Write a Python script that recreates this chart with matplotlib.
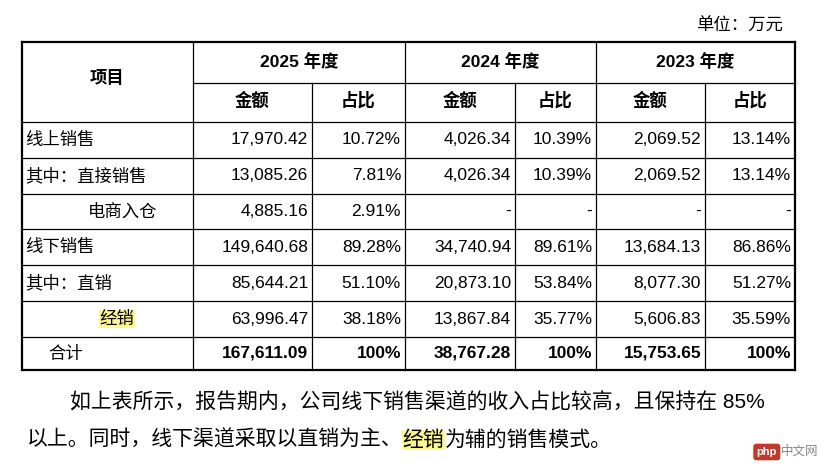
import matplotlib
matplotlib.use("Agg")
import matplotlib.pyplot as plt

FAM = ['Liberation Sans', 'Noto Sans CJK SC']
years = ["2025 年度", "2024 年度", "2023 年度"]
sub = ["金额", "占比"]
row_labels = ["线上销售", "其中：直接销售", "电商入仓", "线下销售", "其中：直销", "经销", "合计"]
amt_2025 = ["17,970.42", "13,085.26", "4,885.16", "149,640.68", "85,644.21", "63,996.47", "167,611.09"]
pct_2025 = ["10.72%", "7.81%", "2.91%", "89.28%", "51.10%", "38.18%", "100%"]
amt_2024 = ["4,026.34", "4,026.34", "-", "34,740.94", "20,873.10", "13,867.84", "38,767.28"]
pct_2024 = ["10.39%", "10.39%", "-", "89.61%", "53.84%", "35.77%", "100%"]
amt_2023 = ["2,069.52", "2,069.52", "-", "13,684.13", "8,077.30", "5,606.83", "15,753.65"]
pct_2023 = ["13.14%", "13.14%", "-", "86.86%", "51.27%", "35.59%", "100%"]

fig = plt.figure(figsize=(8.3, 4.7), dpi=100)
ax = fig.add_axes([0, 0, 1, 1])
ax.set_xlim(0, 830); ax.set_ylim(470, 0); ax.axis('off')

xs = [22, 193, 312, 405, 515, 596, 705, 795]
ys = [42, 83, 122, 158, 194, 229, 265, 301, 337, 370]
FS = 12.5

for y in ys:
    if y == 83:
        ax.plot([xs[1], xs[-1]], [y, y], color='black', lw=0.9)
    else:
        ax.plot([xs[0], xs[-1]], [y, y], color='black', lw=1.6 if y in (42, 370) else 0.9)
for i, x in enumerate(xs):
    lw = 1.6 if i in (0, len(xs)-1) else 0.9
    ax.plot([x, x], [83 if i in (2, 4, 6) else 42, 370], color='black', lw=lw)

ax.text(783, 26, "单位：万元", ha='right', va='center', fontsize=FS, family=FAM)
ax.text((xs[0]+xs[1])/2, 78, "项目", ha='center', va='center', fontsize=FS, family=FAM, weight='bold')
for k, yr in enumerate(years):
    ax.text((xs[1+2*k]+xs[3+2*k])/2, 62, yr, ha='center', va='center', fontsize=FS, family=FAM, weight='bold')
    for j in range(2):
        ax.text((xs[1+2*k+j]+xs[2+2*k+j])/2, 100, sub[j], ha='center', va='center', fontsize=FS, family=FAM, weight='bold')

cols = [amt_2025, pct_2025, amt_2024, pct_2024, amt_2023, pct_2023]
for r, lab in enumerate(row_labels):
    yc = (ys[r+2] + ys[r+3]) / 2
    bold = r == 6
    if lab == "电商入仓":
        ax.text(88, yc, lab, ha='left', va='center', fontsize=FS, family=FAM)
    elif lab == "经销":
        ax.text(117, yc, lab, ha='center', va='center', fontsize=FS, family=FAM,
                bbox=dict(facecolor='#fff68f', edgecolor='none', pad=0.5))
    elif lab == "合计":
        ax.text(48, yc, lab, ha='left', va='center', fontsize=FS, family=FAM)
    else:
        ax.text(25, yc, lab, ha='left', va='center', fontsize=FS, family=FAM)
    for c, col in enumerate(cols):
        ax.text(xs[c+2]-4, yc, col[r], ha='right', va='center', fontsize=FS, family=FAM,
                weight='bold' if bold else 'normal')

PF = 15
fig.canvas.draw()
rend = fig.canvas.get_renderer()
def seq(x, y, parts):
    for txt, hl in parts:
        t = ax.text(x, y, txt, ha='left', va='center', fontsize=PF, family=FAM)
        if hl:
            t.set_bbox(dict(facecolor='#fff68f', edgecolor='none', pad=0.5))
        x += t.get_window_extent(rend).width
seq(70, 402, [("如上表所示，报告期内，公司线下销售渠道的收入占比较高，且保持在 85%", False)])
seq(27, 440, [("以上。同时，线下渠道采取以直销为主、", False), ("经销", True), ("为辅的销售模式。", False)])

ax.text(777, 452, "php", ha='right', va='center', fontsize=8, color='white', weight='bold',
        family=FAM, bbox=dict(facecolor='#c0392b', edgecolor='none', boxstyle='round,pad=0.3'))
ax.text(781, 452, "中文网", ha='left', va='center', fontsize=9, color='#888888', family=FAM)

fig.savefig("out.png", dpi=100)
